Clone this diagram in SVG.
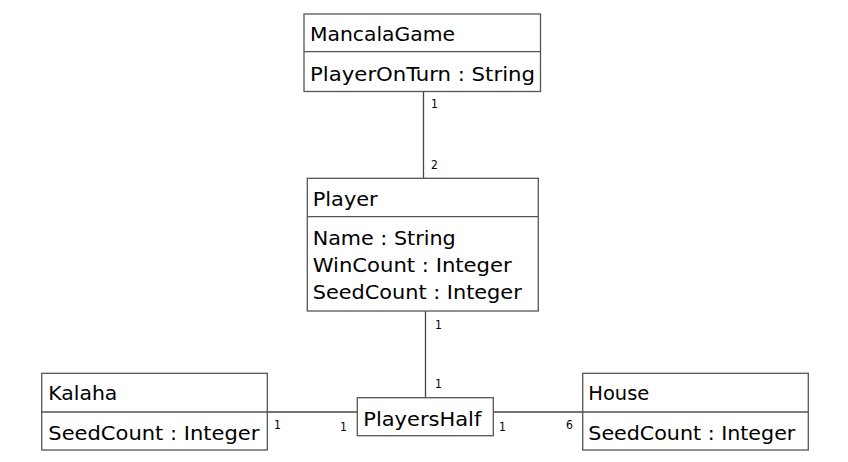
<svg xmlns="http://www.w3.org/2000/svg" width="848" height="462" viewBox="0 0 848 462">
<style>
.box{fill:#fff;stroke:#555;stroke-width:1.3}
.div{stroke:#555;stroke-width:1.3}
.t{font-family:"DejaVu Sans Condensed","DejaVu Sans",sans-serif;font-size:20px;fill:#000}
.m{font-family:"DejaVu Sans Condensed","DejaVu Sans",sans-serif;font-size:12px;fill:#000}
.c{stroke:#444;stroke-width:1.3;fill:none}
</style>
<rect width="848" height="462" fill="#fff"/>
<g id="connectors">
<line class="c" x1="423.5" y1="92" x2="423.5" y2="178"/>
<line class="c" x1="425.5" y1="311" x2="425.5" y2="398"/>
<line class="c" x1="267" y1="412" x2="357" y2="412"/>
<line class="c" x1="493" y1="412" x2="583" y2="412"/>
<text class="m" x="431" y="108">1</text>
<text class="m" x="431" y="169">2</text>
<text class="m" x="435" y="329">1</text>
<text class="m" x="435" y="388">1</text>
<text class="m" x="274" y="429">1</text>
<text class="m" x="340" y="431">1</text>
<text class="m" x="499" y="431">1</text>
<text class="m" x="566" y="429">6</text>
</g>
<g id="MancalaGame">
<rect class="box" x="304" y="14" width="236.5" height="77.5"/>
<line class="div" x1="304" y1="51.7" x2="540.5" y2="51.7"/>
<text class="t" x="310" y="41" textLength="145" lengthAdjust="spacingAndGlyphs">MancalaGame</text>
<text class="t" x="310" y="81" textLength="225" lengthAdjust="spacingAndGlyphs">PlayerOnTurn : String</text>
</g>
<g id="Player">
<rect class="box" x="307.3" y="178.3" width="231" height="132.7"/>
<line class="div" x1="307.3" y1="216.7" x2="538.3" y2="216.7"/>
<text class="t" x="312.7" y="206" textLength="65" lengthAdjust="spacingAndGlyphs">Player</text>
<text class="t" x="312.7" y="245" textLength="143" lengthAdjust="spacingAndGlyphs">Name : String</text>
<text class="t" x="312.7" y="272" textLength="199" lengthAdjust="spacingAndGlyphs">WinCount : Integer</text>
<text class="t" x="312.7" y="299" textLength="209" lengthAdjust="spacingAndGlyphs">SeedCount : Integer</text>
</g>
<g id="PlayersHalf">
<rect class="box" x="357.3" y="397.7" width="136" height="38"/>
<text class="t" x="363.3" y="426" textLength="118" lengthAdjust="spacingAndGlyphs">PlayersHalf</text>
</g>
<g id="Kalaha">
<rect class="box" x="41.7" y="373.3" width="225.6" height="76.7"/>
<line class="div" x1="41.7" y1="412" x2="267.3" y2="412"/>
<text class="t" x="48.3" y="400" textLength="69" lengthAdjust="spacingAndGlyphs">Kalaha</text>
<text class="t" x="48.3" y="440" textLength="211" lengthAdjust="spacingAndGlyphs">SeedCount : Integer</text>
</g>
<g id="House">
<rect class="box" x="582.7" y="373.3" width="225.6" height="76.7"/>
<line class="div" x1="582.7" y1="412" x2="808.3" y2="412"/>
<text class="t" x="588.3" y="400" textLength="61" lengthAdjust="spacingAndGlyphs">House</text>
<text class="t" x="588.3" y="440" textLength="207" lengthAdjust="spacingAndGlyphs">SeedCount : Integer</text>
</g>
</svg>
